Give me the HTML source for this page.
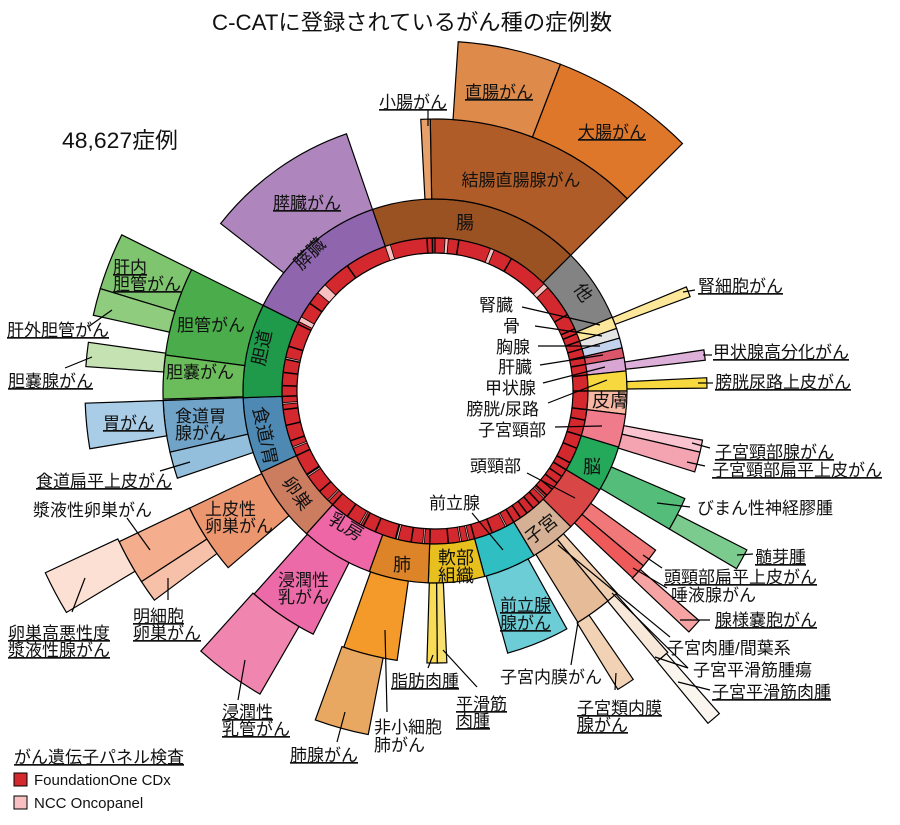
<!DOCTYPE html>
<html><head><meta charset="utf-8">
<style>
html,body{margin:0;padding:0;background:#fff;}
svg{display:block;font-family:"Liberation Sans","Noto Sans CJK JP",sans-serif;}
text{fill:#111;font-size:17px;}
.u{text-decoration:underline;}
</style></head>
<body>
<svg id="s" width="900" height="825" viewBox="0 0 900 825" xmlns="http://www.w3.org/2000/svg">
<g id="w"></g>
<g id="l" stroke="#000" stroke-width="1.2" fill="none"></g>
<g id="t">
<text x="212" y="30" style="font-size:22px" textLength="400" lengthAdjust="spacingAndGlyphs">C-CATに登録されているがん種の症例数</text>
<text x="62" y="148" style="font-size:22px" textLength="116" lengthAdjust="spacingAndGlyphs">48,627症例</text>

<text x="465" y="229" text-anchor="middle" style="font-size:18px">腸</text>
<text x="0" y="0" text-anchor="middle" transform="translate(578,296) rotate(56)" style="font-size:18px">他</text>
<text x="610" y="407" text-anchor="middle" style="font-size:18px">皮膚</text>
<text x="592" y="473" text-anchor="middle" style="font-size:18px">脳</text>
<text x="0" y="0" text-anchor="middle" transform="translate(545,534) rotate(-38)" style="font-size:18px">子宮</text>
<text x="456" y="564" text-anchor="middle" style="font-size:18px">軟部</text>
<text x="456" y="582" text-anchor="middle" style="font-size:18px">組織</text>
<text x="402" y="571" text-anchor="middle" style="font-size:18px">肺</text>
<text x="0" y="0" text-anchor="middle" transform="translate(343,532) rotate(31)" style="font-size:18px">乳房</text>
<text x="0" y="0" text-anchor="middle" transform="translate(292,497) rotate(55)" style="font-size:18px">卵巣</text>
<text x="0" y="0" text-anchor="middle" transform="translate(259,437) rotate(78)" style="font-size:18px">食道/胃</text>
<text x="0" y="0" text-anchor="middle" transform="translate(268,349) rotate(-78)" style="font-size:18px">胆道</text>
<text x="0" y="0" text-anchor="middle" transform="translate(314,258) rotate(-45)" style="font-size:18px">膵臓</text>

<text x="521" y="186" text-anchor="middle">結腸直腸腺がん</text>
<text x="499" y="98" text-anchor="middle" class="u">直腸がん</text>
<text x="612" y="138" text-anchor="middle" class="u">大腸がん</text>
<text x="413" y="108" text-anchor="middle" class="u">小腸がん</text>
<text x="307" y="209" text-anchor="middle" class="u">膵臓がん</text>
<text x="113" y="273" class="u">肝内</text>
<text x="113" y="290" class="u">胆管がん</text>
<text x="211" y="331" text-anchor="middle">胆管がん</text>
<text x="200" y="378" text-anchor="middle">胆嚢がん</text>
<text x="7" y="336" class="u">肝外胆管がん</text>
<text x="8" y="387" class="u">胆嚢腺がん</text>
<text x="103" y="429" class="u">胃がん</text>
<text x="175" y="422">食道胃</text>
<text x="175" y="439">腺がん</text>
<text x="36" y="487" class="u">食道扁平上皮がん</text>
<text x="33" y="516">漿液性卵巣がん</text>
<text x="205" y="515">上皮性</text>
<text x="205" y="532">卵巣がん</text>
<text x="8" y="639" class="u">卵巣高悪性度</text>
<text x="8" y="656" class="u">漿液性腺がん</text>
<text x="133" y="622" class="u">明細胞</text>
<text x="133" y="639" class="u">卵巣がん</text>
<text x="278" y="586">浸潤性</text>
<text x="278" y="603">乳がん</text>
<text x="222" y="718" class="u">浸潤性</text>
<text x="222" y="735" class="u">乳管がん</text>
<text x="290" y="761" class="u">肺腺がん</text>
<text x="374" y="733">非小細胞</text>
<text x="374" y="751">肺がん</text>
<text x="391" y="687" class="u">脂肪肉腫</text>
<text x="456" y="710" class="u">平滑筋</text>
<text x="456" y="727" class="u">肉腫</text>
<text x="500" y="683">子宮内膜がん</text>
<text x="577" y="714" class="u">子宮類内膜</text>
<text x="577" y="731" class="u">腺がん</text>
<text x="500" y="611" class="u">前立腺</text>
<text x="500" y="629" class="u">腺がん</text>

<text x="698" y="292" class="u">腎細胞がん</text>
<text x="713" y="358" class="u">甲状腺高分化がん</text>
<text x="715" y="388" class="u">膀胱尿路上皮がん</text>
<text x="715" y="458" class="u">子宮頸部腺がん</text>
<text x="712" y="476" class="u">子宮頸部扁平上皮がん</text>
<text x="697" y="514">びまん性神経膠腫</text>
<text x="755" y="563" class="u">髄芽腫</text>
<text x="664" y="583" class="u">頭頸部扁平上皮がん</text>
<text x="671" y="601">唾液腺がん</text>
<text x="715" y="626" class="u">腺様嚢胞がん</text>
<text x="667" y="654">子宮肉腫/間葉系</text>
<text x="693" y="676">子宮平滑筋腫瘍</text>
<text x="712" y="698" class="u">子宮平滑筋肉腫</text>

<text x="513" y="311" text-anchor="end">腎臓</text>
<text x="520" y="332" text-anchor="end">骨</text>
<text x="530" y="353" text-anchor="end">胸腺</text>
<text x="532" y="373" text-anchor="end">肝臓</text>
<text x="536" y="394" text-anchor="end">甲状腺</text>
<text x="539" y="415" text-anchor="end">膀胱/尿路</text>
<text x="546" y="436" text-anchor="end">子宮頸部</text>
<text x="521" y="472" text-anchor="end">頭頸部</text>
<text x="480" y="509" text-anchor="end">前立腺</text>

<text x="14" y="763" class="u">がん遺伝子パネル検査</text>
<rect x="14" y="773" width="13" height="13" fill="#d3282d" stroke="#000"/>
<text x="34" y="785" style="font-size:15px">FoundationOne CDx</text>
<rect x="14" y="796" width="13" height="13" fill="#f8c0c0" stroke="#000"/>
<text x="34" y="808" style="font-size:15px">NCC Oncopanel</text>
</g>
</svg>
<script>
var cx=435,cy=391,NS="http://www.w3.org/2000/svg";
function P(a,r){a=a*Math.PI/180;return [(cx+r*Math.sin(a)).toFixed(2),(cy-r*Math.cos(a)).toFixed(2)];}
function wedge(a1,a2,r1,r2,fill,sw){
 var lg=(a2-a1)>180?1:0;
 var p1=P(a1,r2),p2=P(a2,r2),p3=P(a2,r1),p4=P(a1,r1);
 var d="M"+p1+"A"+r2+","+r2+" 0 "+lg+" 1 "+p2+"L"+p3+"A"+r1+","+r1+" 0 "+lg+" 0 "+p4+"Z";
 var e=document.createElementNS(NS,"path");e.setAttribute("d",d);e.setAttribute("fill",fill);
 e.setAttribute("stroke","#000");e.setAttribute("stroke-width",sw||1.2);
 document.getElementById("w").appendChild(e);
}
var R0=138,R1=153,R2=192,R3=272,R4=350,R5=430;
wedge(0,359.99,R0,R1,"#d3282d",1.2);
var pinks=[[-19,-17],[3.8,5],[21.3,22.8],[45.5,47.5],[-50,-46],[-63,-61],[-78,-77.3],[-95,-94.4],[-112,-111.4],[-124,-123.4],[-136,-135.4],[-151,-150.4],[-166,-165.3],[-176,-175.4],[-193,-192.4],[170,170.6],[152,152.6],[134,134.6]];
pinks.forEach(function(p){wedge(p[0],p[1],R0,R1,"#f8c0c0",0.8);});
var ticks=[-3,-1,9,30,60,66,68,71,74,77,80,84,90,97,101,107,112,118,121,124,127,130,133,137,140,143,146,149,158,165,175,182,189,195,203,208,215,222,229,237,245,251,257,263,268,272,277,282,287,296,305,325];
var g=document.getElementById("l");
function line(x1,y1,x2,y2,w){var e=document.createElementNS(NS,"line");e.setAttribute("x1",x1);e.setAttribute("y1",y1);e.setAttribute("x2",x2);e.setAttribute("y2",y2);if(w)e.setAttribute("stroke-width",w);g.appendChild(e);}
ticks.forEach(function(a){var p=P(a,R0),q=P(a,R1);line(p[0],p[1],q[0],q[1],1.5);});
[[-19,45,"#9b5223"],[45,67.4,"#838383"],[67.4,71,"#fce79a"],[71,74,"#e5e5e5"],[74,77,"#c3d3ee"],[77,80,"#d9566b"],[80,84,"#d9a6d3"],[84,90,"#f7d83f"],[90,97,"#f7b7a3"],[97,107,"#f07b8b"],[107,121,"#24a85a"],[121,135,"#d94646"],[135,149,"#d5b094"],[149,165,"#2fbfc3"],[165,182,"#e8c01e"],[182,200,"#dd8429"],[200,222,"#ee66a6"],[222,245,"#cc7d60"],[245,268,"#4e89b3"],[268,296.5,"#1f9a4a"],[296.5,341,"#8f66ae"]].forEach(function(c){wedge(c[0],c[1],R1,R2,c[2]);});
[[-1,45,"#b05c28"],[-3,-1,"#e8a06a"],[308,341,"#ae86bd"],[277.6,296.5,"#4aac4a"],[268.3,277.6,"#6bbd5b"],[257,268,"#6fa3c8"],[251.3,257,"#93bfdd"],[229.5,244.5,"#ec9670"],[206.6,221.7,"#ec6aa8"],[188,199.6,"#f39a2a"],[179.5,181.7,"#f8dc56"],[177.5,179.5,"#f8e070"],[151,164.5,"#6ccdd6"],[140.5,148.3,"#e6bb97"],[138,140.5,"#efcfb0"],[125.8,130,"#f07878"],[130,133.4,"#ee5a5a"],[113.3,120.5,"#55bd7a"],[100.4,103,"#f9c4cf"],[103,107.3,"#f4a3b1"],[87.2,89.4,"#f7d83f"],[81.3,83.5,"#dcb0d8"],[67.5,69.7,"#fce79a"]].forEach(function(c){wedge(c[0],c[1],R2,R3,c[2]);});
[[3.8,21,"#dd8a4a"],[21,45,"#de772a"],[287,296.5,"#7fc46f"],[282.5,287,"#8fcc7e"],[274,278,"#c5e3b2"],[260.5,268,"#a9cde6"],[237,244.5,"#f4ad8d"],[233.3,237,"#f7c0a8"],[210,222,"#f085b0"],[191,200,"#e8a862"],[145.5,148.5,"#f1d2b4"],[138.3,140.6,"#f7e8da"],[131,133.5,"#f5a3a3"],[117,120.5,"#7ccb8e"]].forEach(function(c){wedge(c[0],c[1],R3,R4,c[2]);});
[[239,245,"#fbe0d3"],[138.6,140.6,"#fbf5ef"]].forEach(function(c){wedge(c[0],c[1],R4,R5,c[2]);});
[[428,110,428,126],[522,307,600,325],[535,326,602,336],[538,346,600,346],[540,365,603,355],[543,383,605,367],[548,403,607,380],[555,427,602,426],[527,473,575,498],[472,513,503,550],
[88,327,112,310],[65,368,92,357],[160,471,190,462],[127,518,150,550],[72,612,85,578],[168,600,168,578],[238,700,245,660],[337,742,345,712],[387,712,385,630],[428,668,433,655],[477,687,443,650],[571,665,578,622],[615,690,616,673],
[558,545,670,637],[612,593,688,668],[655,657,688,668],[678,682,710,690],[680,620,710,620],[633,568,667,588],[643,555,662,568],[737,555,753,554],[657,503,690,507],[692,443,710,448],[687,462,705,466],[698,383,713,383],[703,355,712,355],[683,292,695,290]].forEach(function(s){line(s[0],s[1],s[2],s[3]);});
</script>
</body></html>
